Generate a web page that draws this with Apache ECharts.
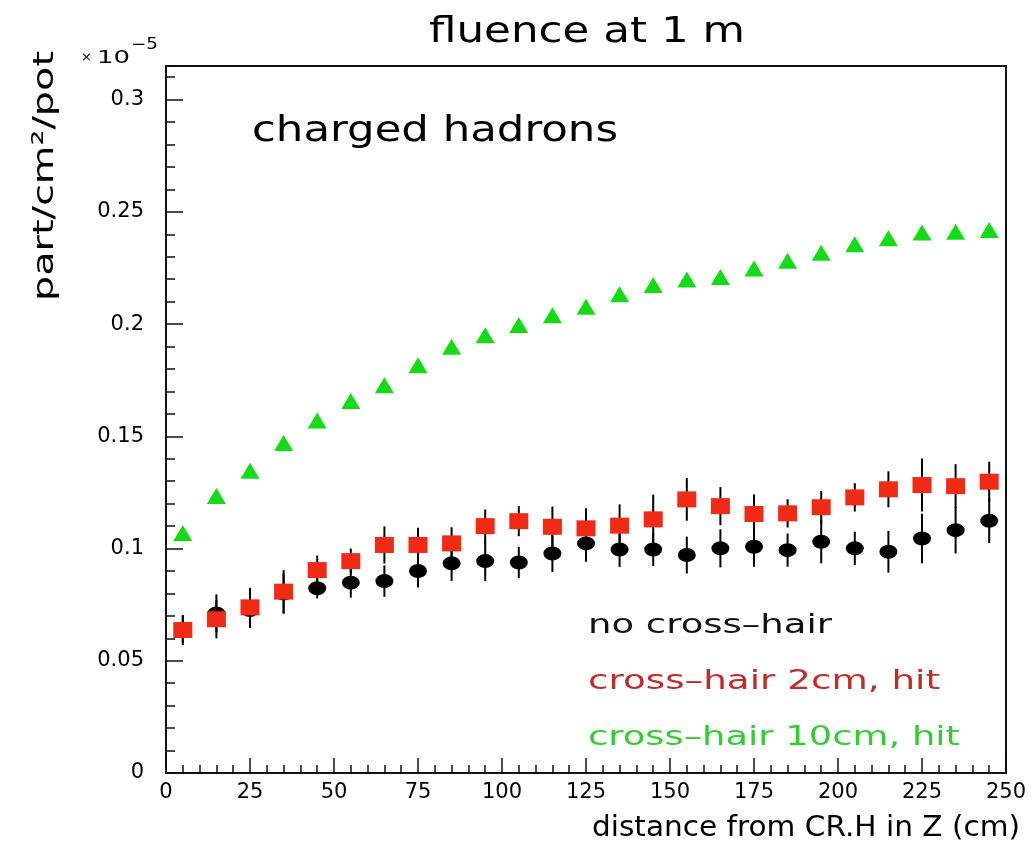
<!DOCTYPE html>
<html>
<head>
<meta charset="utf-8">
<script src="https://cdn.jsdelivr.net/npm/echarts@6/dist/echarts.min.js"></script>
<style>
  html, body { margin: 0; padding: 0; background: #fff; }
  #chart { width: 1034px; height: 850px; }
</style>
</head>
<body>
<div id="chart"></div>
<script>
// ---- data ----
var distances = [5, 15, 25, 35, 45, 55, 65, 75, 85, 95, 105, 115, 125, 135, 145, 155, 165, 175, 185, 195, 205, 215, 225, 235, 245];
var noCrossHair = [0.064, 0.0711, 0.0726, 0.080, 0.0823, 0.0848, 0.0855, 0.090, 0.0934, 0.0944, 0.0938, 0.0978, 0.1023, 0.0996, 0.0996, 0.0971, 0.1001, 0.1008, 0.0993, 0.103, 0.1001, 0.0986, 0.1045, 0.1082, 0.1124];
var noCrossHairErr = [0.006, 0.0085, 0.008, 0.009, 0.0045, 0.0067, 0.007, 0.0074, 0.0078, 0.0089, 0.007, 0.0082, 0.0082, 0.0078, 0.0074, 0.0082, 0.0085, 0.0089, 0.0074, 0.0096, 0.0074, 0.0093, 0.011, 0.0104, 0.010];
var crossHair2 = [0.0637, 0.0685, 0.0738, 0.0808, 0.0904, 0.0944, 0.1016, 0.1016, 0.1023, 0.110, 0.1122, 0.1097, 0.109, 0.1102, 0.113, 0.1219, 0.1189, 0.1154, 0.1157, 0.1184, 0.1228, 0.1264, 0.1283, 0.1278, 0.1298];
var crossHair2Err = [0.0067, 0.0085, 0.0087, 0.0096, 0.0065, 0.0056, 0.0083, 0.0077, 0.0072, 0.0074, 0.0067, 0.009, 0.009, 0.0095, 0.011, 0.0095, 0.0085, 0.0087, 0.0063, 0.0073, 0.0063, 0.008, 0.0118, 0.0098, 0.0089];
var crossHair10 = [0.1069, 0.1234, 0.1347, 0.147, 0.157, 0.1657, 0.1728, 0.1817, 0.1899, 0.195, 0.1996, 0.204, 0.2077, 0.2133, 0.2174, 0.2199, 0.221, 0.2248, 0.2282, 0.2318, 0.2356, 0.2382, 0.2408, 0.2411, 0.2419];
var seriesNames = ['no cross\u2013hair', 'cross\u2013hair 2cm, hit', 'cross\u2013hair 10cm, hit'];
var chartTitle = 'fluence at 1 m';
var subTitle = 'charged hadrons';
var xTitle = 'distance from CR.H in Z (cm)';
var yTitle = 'part/cm\u00B2/pot';

// ---- helpers ----
var FONT = '"DejaVu Sans"';
var mctx = document.createElement('canvas').getContext('2d');
function fitScale(text, size, targetW) {
  mctx.font = size + 'px ' + FONT;
  return targetW / mctx.measureText(text).width;
}
function txt(text, left, cy, size, targetW, color) {
  return {
    type: 'text', x: left, y: cy,
    scaleX: targetW ? fitScale(text, size, targetW) : 1,
    style: { text: text, font: size + 'px ' + FONT, fill: color || '#000',
             textAlign: 'left', textVerticalAlign: 'middle' }
  };
}
function pts(ys) { return distances.map(function (x, i) { return [x, ys[i]]; }); }
function errPts(ys, es) { return distances.map(function (x, i) { return [x, ys[i] - es[i], ys[i] + es[i]]; }); }
function errSeries(ys, es) {
  return {
    type: 'custom', xAxisIndex: 0, yAxisIndex: 0,
    data: errPts(ys, es), silent: true,
    renderItem: function (params, api) {
      var p1 = api.coord([api.value(0), api.value(1)]);
      var p2 = api.coord([api.value(0), api.value(2)]);
      return { type: 'line', shape: { x1: p1[0], y1: p1[1], x2: p2[0], y2: p2[1] },
               style: { stroke: '#000', lineWidth: 2 } };
    }
  };
}

var chart = echarts.init(document.getElementById('chart'), null, { renderer: 'canvas' });

var yTitleScale = fitScale(yTitle, 29, 250);
var option = {
  backgroundColor: '#fff',
  animation: false,
  grid: { left: 166, right: 28, top: 66, bottom: 77, show: true, borderColor: '#111', borderWidth: 2, backgroundColor: 'transparent' },
  xAxis: {
    type: 'value', min: 0, max: 250, interval: 25,
    axisLine: { lineStyle: { color: '#111', width: 2 } },
    axisTick: { inside: true, length: 15, lineStyle: { color: '#111', width: 1.5 } },
    minorTick: { show: true, splitNumber: 5, length: 8, lineStyle: { color: '#111', width: 1.5 } },
    splitLine: { show: false },
    axisLabel: { color: '#000', fontSize: 21, fontFamily: FONT, margin: 9 }
  },
  yAxis: [{
    type: 'value', min: 0, max: 0.315, interval: 0.05,
    axisLine: { lineStyle: { color: '#111', width: 2 } },
    axisTick: { inside: true, length: 17, lineStyle: { color: '#111', width: 1.5 } },
    splitLine: { show: false },
    axisLabel: { color: '#000', fontSize: 21, fontFamily: FONT, margin: 22, showMaxLabel: false,
      formatter: function (v) { return (Math.round(v * 100) % 5 === 0) ? String(+v.toFixed(2)) : ''; } }
  }, {
    type: 'value', min: 0, max: 0.315, interval: 0.01, position: 'left',
    axisLine: { show: false },
    axisTick: { inside: true, length: 9, lineStyle: { color: '#111', width: 1.5 } },
    splitLine: { show: false },
    axisLabel: { show: false }
  }],
  series: [
    errSeries(noCrossHair, noCrossHairErr),
    { type: 'scatter', name: seriesNames[0], data: pts(noCrossHair), symbol: 'circle', symbolSize: [18, 14],
      itemStyle: { color: '#000', opacity: 1 } },
    errSeries(crossHair2, crossHair2Err),
    { type: 'scatter', name: seriesNames[1], data: pts(crossHair2), symbol: 'rect', symbolSize: [19, 16],
      itemStyle: { color: '#f02a14', opacity: 1 } },
    { type: 'scatter', name: seriesNames[2], data: pts(crossHair10), symbol: 'triangle', symbolSize: [19, 16],
      itemStyle: { color: '#14dc14', opacity: 1 } }
  ],
  graphic: [
    txt(chartTitle, 429, 33, 36, 316),
    txt(subTitle, 252, 132, 36, 366),
    txt(seriesNames[0], 588, 626, 27, 244, '#111'),
    txt(seriesNames[1], 588, 682, 27, 352, '#c42a2a'),
    txt(seriesNames[2], 588, 738, 27, 372, '#33cc33'),
    txt(xTitle, 592, 828, 29, 428),
    { type: 'text', x: 45, y: 176, rotation: Math.PI / 2, scaleX: yTitleScale,
      style: { text: yTitle, font: '29px ' + FONT, fill: '#000', textAlign: 'center', textVerticalAlign: 'middle' } },
    txt('\u00D7', 81, 58, 13, 0),
    txt('10', 97, 58, 18, 33),
    txt('\u22125', 131, 45, 15, 27)
  ]
};
chart.setOption(option);
</script>
</body>
</html>
